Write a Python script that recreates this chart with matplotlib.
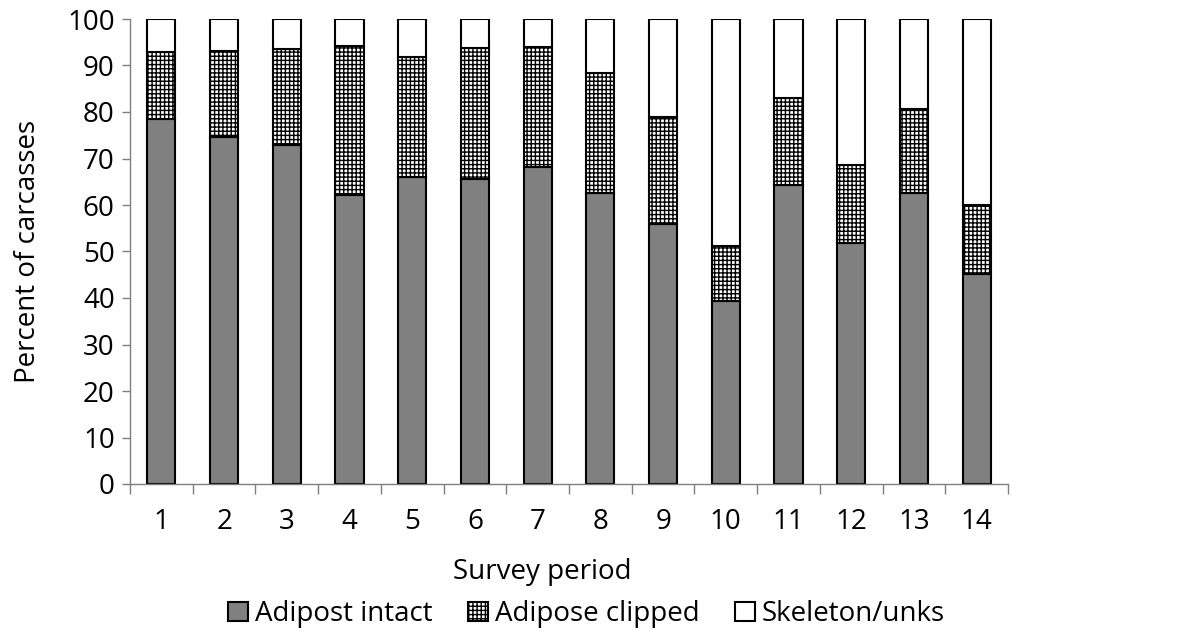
import numpy as np
import matplotlib.pyplot as plt
from matplotlib.ticker import MultipleLocator

plt.rcParams['font.family'] = ['Open Sans', 'DejaVu Sans']
plt.rcParams['hatch.color'] = '#9a9a9a'
plt.rcParams['hatch.linewidth'] = 1.0

# Percent of carcasses in each condition per survey period
periodos = [str(i) for i in range(1, 15)]
intactas = [78.6, 74.6, 73.0, 62.2, 66.1, 65.5, 68.2, 62.5, 56.0, 39.4, 64.2, 51.9, 62.5, 45.2]
cortadas = [14.2, 18.5, 20.5, 32.1, 25.8, 28.3, 25.7, 25.8, 23.0, 11.8, 18.9, 16.6, 18.1, 14.9]
esqueletos = [7.2, 6.9, 6.5, 5.7, 8.1, 6.2, 6.1, 11.7, 21.0, 48.8, 16.9, 31.5, 19.4, 39.9]

x = np.arange(len(periodos))
largura = 0.45

fig = plt.figure(figsize=(11.88, 6.34), dpi=100)
ax = fig.add_axes([130 / 1188, 1 - 484 / 634, 878 / 1188, 465 / 634])

base2 = np.array(intactas)
base3 = base2 + np.array(cortadas)
ax.bar(x, intactas, largura, color='#808080', edgecolor='black', linewidth=1.5,
       label='Adipost intact')
ax.bar(x, cortadas, largura, bottom=base2, color='white', edgecolor='black',
       linewidth=1.5, hatch='++++', label='Adipose clipped')
ax.bar(x, esqueletos, largura, bottom=base3, color='white', edgecolor='black',
       linewidth=1.5, label='Skeleton/unks')

ax.set_xlim(-0.5, len(periodos) - 0.5)
ax.set_ylim(0, 100)
ax.yaxis.set_major_locator(MultipleLocator(10))
ax.tick_params(axis='y', labelsize=20, direction='out', length=6, width=1,
               color='#7f7f7f', pad=5)

# category labels centred, tick marks on the boundaries
ax.set_xticks(x)
ax.set_xticklabels(periodos, fontsize=20)
ax.tick_params(axis='x', which='major', length=0, pad=17)
ax.set_xticks(np.arange(-0.5, len(periodos)), minor=True)
ax.tick_params(axis='x', which='minor', length=7, width=1, color='#7f7f7f', direction='out')

for lado in ['top', 'right']:
    ax.spines[lado].set_visible(False)
for lado in ['left', 'bottom']:
    ax.spines[lado].set_color('#7f7f7f')
    ax.spines[lado].set_linewidth(1)

ax.set_ylabel('Percent of carcasses', fontsize=20, labelpad=18)
ax.set_xlabel('Survey period', fontsize=20, labelpad=16, x=0.47)

ax.legend(loc='center', bbox_to_anchor=(0.52, -0.28), ncol=3, frameon=False,
          fontsize=20, handlelength=0.7, handleheight=0.7, handletextpad=0.25,
          columnspacing=1.3)

fig.savefig('out.png', dpi=100)
